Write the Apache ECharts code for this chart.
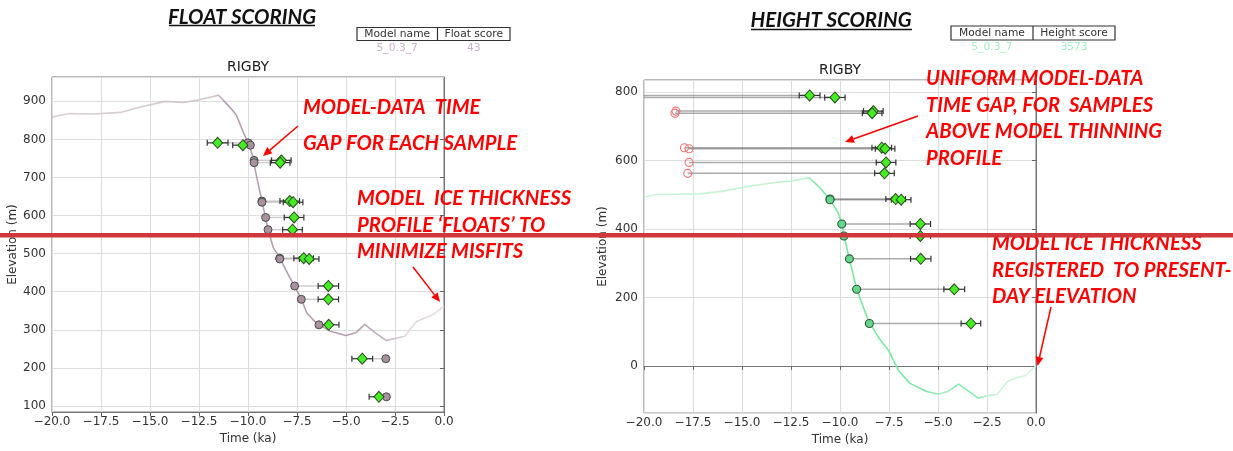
<!DOCTYPE html>
<html><head><meta charset="utf-8">
<script src="https://cdn.jsdelivr.net/npm/echarts@6/dist/echarts.min.js"></script>
<style>html,body{margin:0;padding:0;background:#fff}#c{width:1233px;height:451px}</style>
</head><body><div id="c"></div>
<script>
// ---------- data ----------
const xAxisMin = -20, xAxisMax = 0, xTickStep = 2.5;
const floatYMin = 84, floatYMax = 964;
const heightYMin = -138, heightYMax = 836;

const sampleAge    = [-11.55, -10.26, -8.30, -8.36, -7.87, -7.70, -7.65, -7.73, -7.16, -6.88, -5.90, -5.90, -5.88, -4.17, -3.32];
const sampleElev   = [791, 785, 745, 739, 638, 635, 595, 563, 488, 486, 415, 380, 313, 224, 124];
const sampleAgeErr = [0.53, 0.52, 0.50, 0.50, 0.50, 0.50, 0.50, 0.50, 0.50, 0.50, 0.52, 0.52, 0.52, 0.53, 0.50];

const floatModelAge  = [-10.00, -9.88, -9.69, -9.69, -9.29, -9.29, -9.10, -8.98, -8.38, -8.38, -7.62, -7.28, -6.38, -2.97, -2.94];
const heightModelAge = [null, null, -18.37, -18.42, -17.94, -17.70, -17.70, -17.77, -10.51, -10.51, -9.91, -9.80, -9.52, -9.15, -8.50];
const heightAboveProfile = [true, true, true, true, true, true, true, true, false, false, false, false, false, false, false];

const floatProfileAge  = [-20, -19.1, -17.9, -16.5, -15.5, -14.2, -13.3, -12.5, -11.5, -10.9, -10.6, -10.25, -10.0, -9.75, -9.6, -9.29, -9.1, -8.98, -8.7, -8.38, -7.9, -7.62, -7.28, -7.0, -6.6, -6.38, -5.8, -5.0, -4.5, -4.05, -3.5, -2.95, -2.0, -1.4, -0.55, 0];
const floatProfileElev = [859, 868, 867, 871, 885, 900, 897, 904, 916, 883, 865, 820, 792, 755, 712, 638, 595, 563, 515, 489, 440, 414, 381, 344, 322, 314, 296, 285, 292, 314, 292, 272, 283, 322, 340, 362];

const heightProfileAge  = [-20, -19.35, -17.14, -15.95, -14.6, -13.2, -12.55, -11.57, -11.02, -10.51, -10.09, -9.91, -9.80, -9.52, -9.15, -8.72, -8.50, -8.3, -7.96, -7.53, -7.0, -6.43, -5.62, -5.0, -4.5, -3.95, -3.52, -2.95, -2.5, -2.0, -1.46, -1.07, -0.53, 0];
const heightProfileElev = [494, 501, 503, 511, 526, 537, 540, 550, 521, 486, 448, 415, 380, 313, 224, 158, 124, 109, 77, 46, -15, -51, -74, -83, -75, -53, -71, -94, -87, -84, -46, -36, -28, 0];

const floatTable  = {headers: ['Model name', 'Float score'],  values: ['5_0.3_7', '43']};
const heightTable = {headers: ['Model name', 'Height score'], values: ['5_0.3_7', '3573']};

// ---------- helpers ----------
const chart = echarts.init(document.getElementById('c'), null, {renderer: 'canvas'});
const fmtX = v => v.toFixed(1).replace('-', '\u2212');

function xAxisCfg(gi) {
  return {
    gridIndex: gi, type: 'value', min: xAxisMin, max: xAxisMax, interval: xTickStep,
    name: 'Time (ka)', nameLocation: 'middle', nameGap: 18,
    nameTextStyle: {fontFamily: 'DejaVu Sans', fontSize: 12, color: '#333'},
    axisLine: {lineStyle: {color: '#777', width: 1}},
    axisTick: {show: true, length: 4, lineStyle: {color: '#666'}},
    axisLabel: {formatter: fmtX, fontFamily: 'DejaVu Sans', fontSize: 12, color: '#333', margin: 4},
    splitLine: {show: true, lineStyle: {color: '#dddddd', width: 1}}
  };
}
function yAxisCfg(gi, min, max, split, gap) {
  return {
    gridIndex: gi, type: 'value', min: min, max: max, splitNumber: split,
    name: 'Elevation (m)', nameLocation: 'middle', nameGap: gap,
    nameTextStyle: {fontFamily: 'DejaVu Sans', fontSize: 12, color: '#333'},
    axisLine: {show: true, lineStyle: {color: '#777', width: 1}},
    axisTick: {show: true, length: 4, lineStyle: {color: '#666'}},
    axisLabel: {fontFamily: 'DejaVu Sans', fontSize: 12, color: '#333', margin: 6, showMinLabel: false, showMaxLabel: false},
    splitLine: {show: true, lineStyle: {color: '#dddddd', width: 1}}
  };
}
function gapSeries(ai, data, color, width) {
  return {
    type: 'custom', xAxisIndex: ai, yAxisIndex: ai, z: 1, silent: true, clip: true,
    data: data,
    renderItem: (params, api) => {
      const p1 = api.coord([api.value(0), api.value(1)]);
      const p2 = api.coord([api.value(2), api.value(1)]);
      return {type: 'line', shape: {x1: p1[0], y1: p1[1], x2: p2[0], y2: p2[1]}, style: {stroke: color, lineWidth: width}};
    }
  };
}
function errSeries(ai) {
  return {
    type: 'custom', xAxisIndex: ai, yAxisIndex: ai, z: 3, silent: true,
    data: sampleAge.map((a, i) => [a, sampleElev[i], sampleAgeErr[i]]),
    renderItem: (params, api) => {
      const x = api.value(0), y = api.value(1), e = api.value(2);
      const p1 = api.coord([x - e, y]), p2 = api.coord([x + e, y]);
      const h = 3, st = {stroke: '#333', lineWidth: 1.2};
      return {type: 'group', children: [
        {type: 'line', shape: {x1: p1[0], y1: p1[1], x2: p2[0], y2: p2[1]}, style: st},
        {type: 'line', shape: {x1: p1[0], y1: p1[1] - h, x2: p1[0], y2: p1[1] + h}, style: st},
        {type: 'line', shape: {x1: p2[0], y1: p2[1] - h, x2: p2[0], y2: p2[1] + h}, style: st}
      ]};
    }
  };
}
function diamondSeries(ai) {
  return {
    type: 'scatter', xAxisIndex: ai, yAxisIndex: ai, z: 6, silent: true,
    symbol: 'diamond', symbolSize: [10, 11],
    itemStyle: {color: '#44ee22', borderColor: '#2b4a22', borderWidth: 1, opacity: 1},
    data: sampleAge.map((a, i) => [a, sampleElev[i]])
  };
}

const floatLineColor = new echarts.graphic.LinearGradient(0, 0, 1, 0, [
  {offset: 0, color: 'rgba(205,190,200,0.75)'},
  {offset: 0.41, color: 'rgba(205,190,200,0.85)'},
  {offset: 0.44, color: '#b89db1'},
  {offset: 0.76, color: '#b89db1'},
  {offset: 0.85, color: '#c6b2c0'},
  {offset: 0.9, color: '#e2d8df'},
  {offset: 1, color: '#e6dee3'}
]);
const heightLineColor = new echarts.graphic.LinearGradient(0, 0, 1, 0, [
  {offset: 0, color: '#cdf5dc'},
  {offset: 0.41, color: '#bdf2d0'},
  {offset: 0.44, color: '#7ce7a3'},
  {offset: 0.71, color: '#7ce7a3'},
  {offset: 0.76, color: '#a8efc2'},
  {offset: 0.8, color: '#8ceab0'},
  {offset: 0.85, color: '#8ceab0'},
  {offset: 0.88, color: '#c6f5d6'},
  {offset: 1, color: '#d6f8e2'}
]);

// ---------- graphics (titles, tables, annotations) ----------
const G = [];
function txt(x, y, text, o) {
  G.push({type: 'text', x: x, y: y, z: 100, silent: true, style: Object.assign({
    text: text, fill: '#222', fontFamily: 'DejaVu Sans', fontSize: 12,
    align: 'center', verticalAlign: 'middle', textAlign: 'center', textVerticalAlign: 'middle'
  }, o || {})});
}
function ln(x1, y1, x2, y2, color, w, z) {
  G.push({type: 'line', z: z || 100, silent: true, shape: {x1, y1, x2, y2}, style: {stroke: color, lineWidth: w}});
}
function arrow(x1, y1, x2, y2) {
  const ang = Math.atan2(y2 - y1, x2 - x1), L = 9, W = 4;
  const bx = x2 - L * Math.cos(ang), by = y2 - L * Math.sin(ang);
  ln(x1, y1, bx, by, '#ff0000', 1.5, 101);
  G.push({type: 'polygon', z: 101, silent: true, shape: {points: [
    [x2, y2], [bx + W * Math.sin(ang), by - W * Math.cos(ang)], [bx - W * Math.sin(ang), by + W * Math.cos(ang)]
  ]}, style: {fill: '#ff0000'}});
}
function table(x0, xm, x1, y0, y1, tb, valColor) {
  G.push({type: 'rect', z: 100, silent: true, shape: {x: x0, y: y0, width: x1 - x0, height: y1 - y0}, style: {fill: '#fff', stroke: '#333', lineWidth: 1.2}});
  ln(xm, y0, xm, y1, '#333', 1.2);
  const c1 = (x0 + xm) / 2, c2 = (xm + x1) / 2, cy = (y0 + y1) / 2;
  txt(c1, cy, tb.headers[0], {fontSize: 10.7, fill: '#333'});
  txt(c2, cy, tb.headers[1], {fontSize: 10.7, fill: '#333'});
  txt(c1, cy + 14, tb.values[0], {fontSize: 10.7, fill: valColor});
  txt(c2, cy + 14, tb.values[1], {fontSize: 10.7, fill: valColor});
}
const titleStyle = {fontFamily: 'Lato', fontWeight: 'bold', fontStyle: 'italic', fontSize: 20.5, fill: '#111'};
txt(242, 17, 'FLOAT SCORING', titleStyle);
ln(169, 25.5, 315, 25.5, '#111', 1.5);
txt(831, 20.5, 'HEIGHT SCORING', titleStyle);
ln(751, 29.5, 912, 29.5, '#111', 1.5);

table(357, 437.5, 510, 27.5, 40.5, floatTable, '#c9b3c7');
table(951, 1033, 1115, 26, 40, heightTable, '#a6efc4');

txt(248, 67, 'RIGBY', {fontSize: 14, fill: '#222'});
txt(840, 70.5, 'RIGBY', {fontSize: 14, fill: '#222'});

const annStyle = {fontFamily: 'Lato', fontWeight: 'bold', fontStyle: 'italic', fontSize: 20.3, fill: '#ff0000', align: 'left', textAlign: 'left'};
function ann(x, ys, lines) { lines.forEach((t, i) => txt(x, ys[i], t, annStyle)); }
ann(303, [107, 143], ['MODEL-DATA  TIME', 'GAP FOR EACH SAMPLE']);
ann(357, [198, 225, 251], ['MODEL  ICE THICKNESS', 'PROFILE \u2018FLOATS\u2019 TO', 'MINIMIZE MISFITS']);
ann(926, [78, 105.5, 131.5, 158], ['UNIFORM MODEL-DATA', 'TIME GAP, FOR  SAMPLES', 'ABOVE MODEL THINNING', 'PROFILE']);
ann(992, [243, 270, 296], ['MODEL ICE THICKNESS', 'REGISTERED  TO PRESENT-', 'DAY ELEVATION']);
arrow(298, 126, 263, 156);
arrow(413, 267, 440, 302);
arrow(918, 116, 845, 142);
arrow(1051, 307, 1037.5, 366);

G.push({type: 'rect', z: 200, silent: true, shape: {x: 0, y: 233, width: 1233, height: 4.5}, style: {fill: '#d0373b'}});

// ---------- option ----------
const option = {
  animation: false,
  backgroundColor: '#fff',
  grid: [
    {left: 52, top: 77, width: 392, height: 335, show: true, borderColor: '#777', borderWidth: 1, backgroundColor: '#fff'},
    {left: 644, top: 80, width: 392, height: 335, show: true, borderColor: '#777', borderWidth: 1, backgroundColor: '#fff'}
  ],
  xAxis: [xAxisCfg(0), xAxisCfg(1)],
  yAxis: [yAxisCfg(0, floatYMin, floatYMax, 9, 33), yAxisCfg(1, heightYMin, heightYMax, 5, 35)],
  series: [
    gapSeries(0, floatModelAge.map((m, i) => [m, sampleElev[i], sampleAge[i]]), 'rgba(160,160,160,0.5)', 1.5),
    {type: 'line', xAxisIndex: 0, yAxisIndex: 0, z: 2, silent: true, showSymbol: false, smooth: false,
     lineStyle: {color: floatLineColor, width: 1.6}, data: floatProfileAge.map((a, i) => [a, floatProfileElev[i]])},
    errSeries(0),
    {type: 'scatter', xAxisIndex: 0, yAxisIndex: 0, z: 5, silent: true, symbol: 'circle', symbolSize: 8,
     itemStyle: {color: '#a8929f', borderColor: '#4a4a4a', borderWidth: 1, opacity: 1},
     data: floatModelAge.map((m, i) => [m, sampleElev[i]])},
    diamondSeries(0),

    gapSeries(1, heightModelAge.map((m, i) => [m === null ? xAxisMin : m, sampleElev[i], sampleAge[i]]), 'rgba(90,90,90,0.5)', 1.5),
    {type: 'line', xAxisIndex: 1, yAxisIndex: 1, z: 2, silent: true, showSymbol: false, smooth: false,
     lineStyle: {color: heightLineColor, width: 1.6}, data: heightProfileAge.map((a, i) => [a, heightProfileElev[i]])},
    errSeries(1),
    {type: 'scatter', xAxisIndex: 1, yAxisIndex: 1, z: 5, silent: true, symbol: 'circle', symbolSize: 8,
     itemStyle: {color: 'rgba(255,255,255,0)', borderColor: '#f07272', borderWidth: 1.1, opacity: 1},
     data: heightModelAge.map((m, i) => (m !== null && heightAboveProfile[i]) ? [m, sampleElev[i]] : null).filter(d => d)},
    {type: 'scatter', xAxisIndex: 1, yAxisIndex: 1, z: 5, silent: true, symbol: 'circle', symbolSize: 8,
     itemStyle: {color: '#66d68c', borderColor: '#2e5a3c', borderWidth: 1.1, opacity: 1},
     data: heightModelAge.map((m, i) => (m !== null && !heightAboveProfile[i]) ? [m, sampleElev[i]] : null).filter(d => d)},
    diamondSeries(1)
  ],
  graphic: {elements: G}
};
chart.setOption(option);
</script>
</body></html>
